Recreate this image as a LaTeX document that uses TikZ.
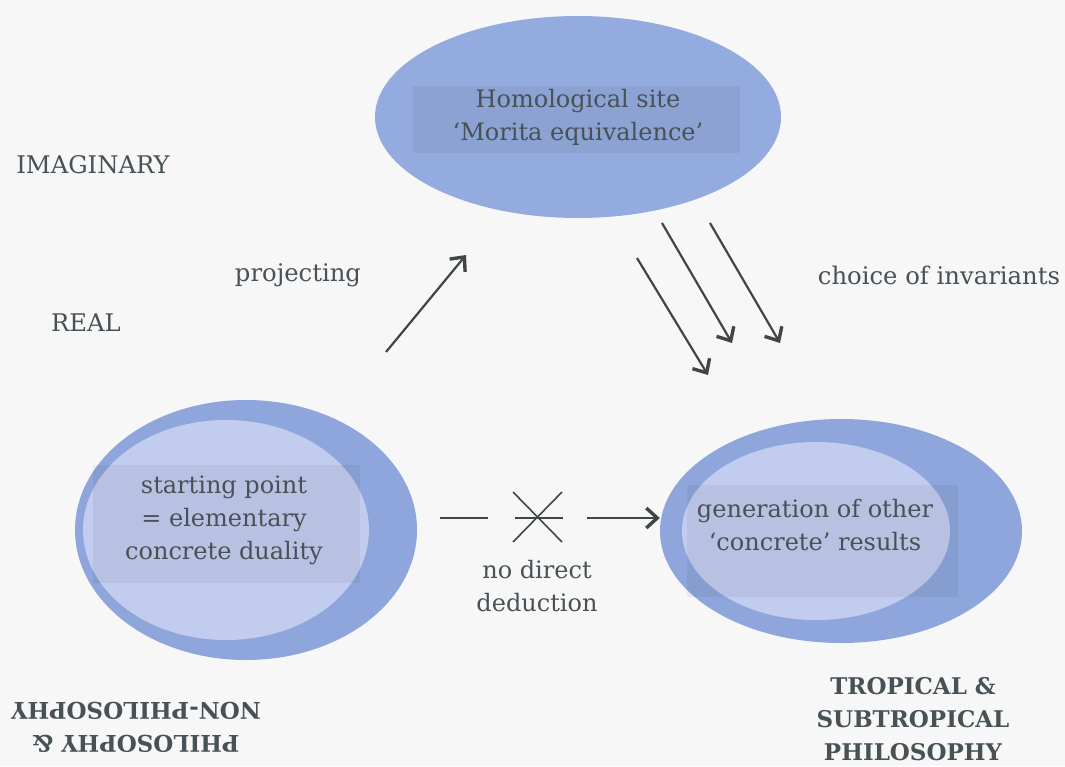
\documentclass[tikz,border=0pt]{standalone}
\usepackage{fontspec}
\setmainfont{DejaVu Serif}
\usetikzlibrary{shapes.geometric,arrows.meta}
\definecolor{bgc}{HTML}{F7F7F7}
\definecolor{outerblue}{HTML}{8EA6DC}
\definecolor{topblue}{HTML}{93ABDF}
\definecolor{innerblue}{HTML}{C2CCEE}
\definecolor{inkc}{HTML}{485156}
\definecolor{arrowc}{HTML}{404548}
\tikzset{
  blob/.style={ellipse, draw=none, inner sep=0pt},
  band/.style={fill=black, opacity=0.05},
  txt/.style={text=inkc, align=center, font=\fontsize{24}{33}\selectfont},
  lbl/.style={text=inkc, font=\fontsize{24.3}{33}\selectfont},
  caplbl/.style={text=inkc, align=center, font=\bfseries\fontsize{23}{33}\selectfont},
  arr/.style={draw=arrowc, line width=2.2pt, -{Straight Barb[length=11pt,width=20pt,line width=3.4pt]}},
  plain/.style={draw=arrowc, line width=1.6pt}
}
\begin{document}
\begin{tikzpicture}[x=1pt,y=-1pt]
\useasboundingbox (0,0) rectangle (1065,766);
\fill[bgc] (0,0) rectangle (1065,766);

% top ellipse
\node[blob, fill=topblue, minimum width=406pt, minimum height=202pt] (top) at (578,117) {};
\fill[band] (413,86) rectangle (740,153);
\node[txt] (toptext) at (578,117) {Homological site\\‘Morita equivalence’};

% left ellipse
\node[blob, fill=outerblue, minimum width=342pt, minimum height=260pt] (left) at (246,530) {};
\node[blob, fill=innerblue, minimum width=286pt, minimum height=220pt] (leftin) at (226,530) {};
\fill[band] (93,465) rectangle (360,583);
\node[txt] (lefttext) at (224,520) {starting point\\= elementary\\concrete duality};

% right ellipse
\node[blob, fill=outerblue, minimum width=362pt, minimum height=224pt] (right) at (841,531) {};
\node[blob, fill=innerblue, minimum width=268pt, minimum height=178pt] (rightin) at (816,531) {};
\fill[band] (687,485) rectangle (958,597);
\node[txt] (righttext) at (815,525) {generation of other\\‘concrete’ results};

% labels
\node[lbl] (imag) at (93,165) {IMAGINARY};
\node[lbl] (real) at (86,323) {REAL};
\node[lbl] (proj) at (298,275) {projecting};
\node[lbl] (choice) at (939,275) {choice of invariants};
\node[txt] (nodir) at (537,586) {no direct\\deduction};
\node[caplbl, rotate=180] (philo) at (136,727) {PHILOSOPHY \&\\NON-PHILOSOPHY};
\node[caplbl] (trop) at (913,719) {TROPICAL \&\\SUBTROPICAL\\PHILOSOPHY};

% projecting arrow
\coordinate (p0) at (386,352);
\coordinate (p1) at (466,255);
\draw[arr] (p0) -- (p1);

% choice of invariants arrows
\coordinate (a1s) at (637,258); \coordinate (a1e) at (708,375);
\coordinate (a2s) at (662,223); \coordinate (a2e) at (732,343);
\coordinate (a3s) at (710,223); \coordinate (a3e) at (780,343);
\draw[arr] (a1s) -- (a1e);
\draw[arr] (a2s) -- (a2e);
\draw[arr] (a3s) -- (a3e);

% no direct deduction
\coordinate (d0) at (440,518); \coordinate (d1) at (488,518);
\coordinate (xa) at (513,492); \coordinate (xb) at (562,542);
\coordinate (xc) at (513,542); \coordinate (xd) at (562,492);
\coordinate (xh0) at (515,518); \coordinate (xh1) at (563,518);
\coordinate (d2) at (587,518);
\draw[plain] (d0) -- (d1);
\draw[plain] (xa) -- (xb);
\draw[plain] (xc) -- (xd);
\draw[plain] (xh0) -- (xh1);
\draw[arr] (d2) -- (d2 -| right.west);
\end{tikzpicture}
\end{document}
